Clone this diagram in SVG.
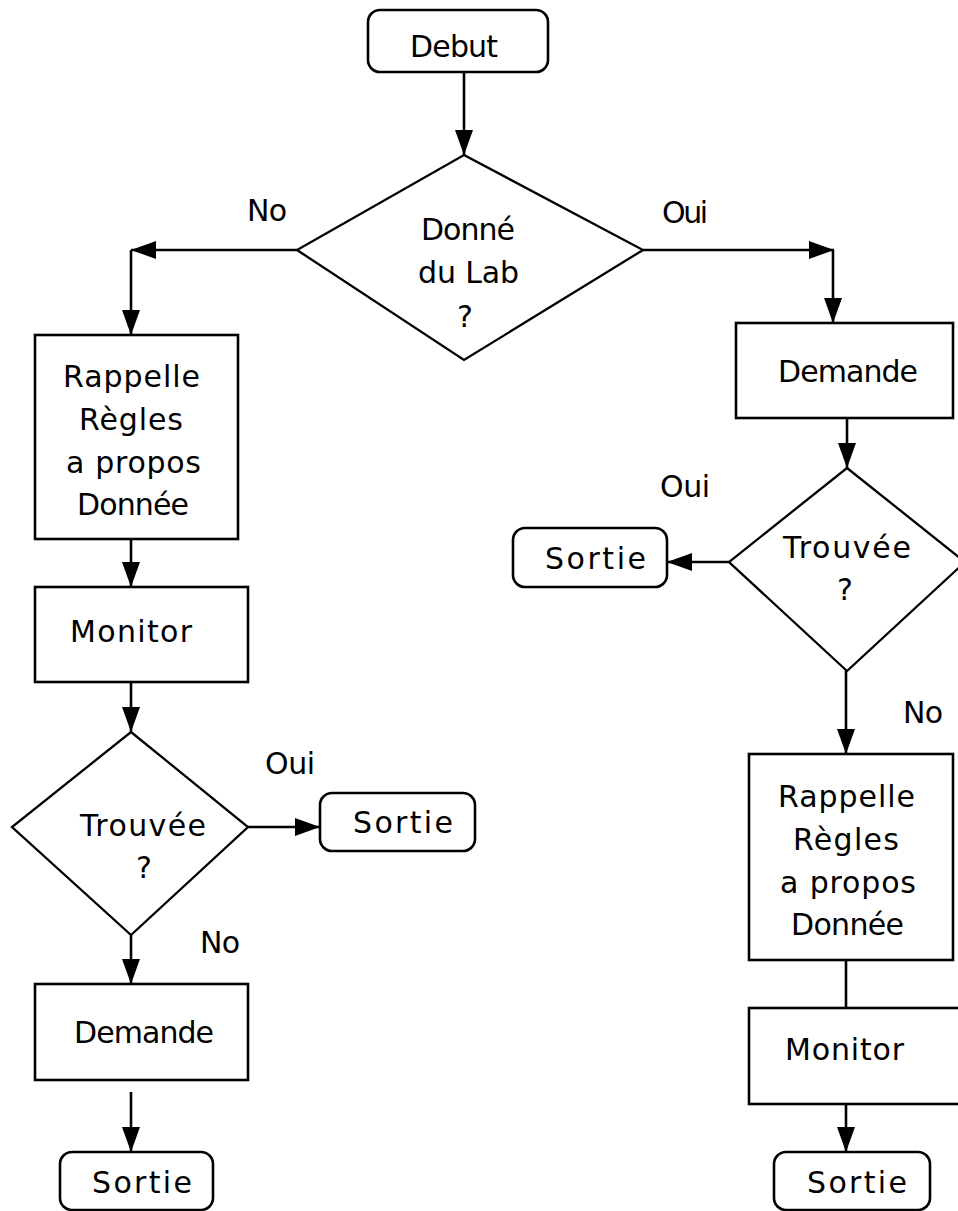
<svg xmlns="http://www.w3.org/2000/svg" width="958" height="1211" viewBox="0 0 958 1211">
<style>
.n{fill:#fff;stroke:#000;stroke-width:2.6}
.d{fill:#fff;stroke:#000;stroke-width:2.3}
.c{fill:none;stroke:#000;stroke-width:2.6}
text{font-family:"DejaVu Sans","Verdana",sans-serif;font-size:30px;fill:#000}
</style>
<defs>
<marker id="ah" markerUnits="userSpaceOnUse" markerWidth="26" markerHeight="18" refX="25" refY="9" orient="auto">
<path d="M0,0 L25,9 L0,18 Z" fill="#000"/>
</marker>
</defs>
<rect width="958" height="1211" fill="#fff"/>
<g id="connectors">
<line class="c" x1="464" y1="72" x2="464" y2="155" marker-end="url(#ah)"/>
<line class="c" x1="297" y1="250" x2="131" y2="250" marker-end="url(#ah)"/>
<line class="c" x1="131" y1="250" x2="131" y2="335" marker-end="url(#ah)"/>
<line class="c" x1="643" y1="250" x2="834" y2="250" marker-end="url(#ah)"/>
<line class="c" x1="833" y1="250" x2="833" y2="323" marker-end="url(#ah)"/>
<line class="c" x1="131" y1="539" x2="131" y2="587" marker-end="url(#ah)"/>
<line class="c" x1="131" y1="682" x2="131" y2="732" marker-end="url(#ah)"/>
<line class="c" x1="248" y1="827" x2="320" y2="827" marker-end="url(#ah)"/>
<line class="c" x1="131" y1="935" x2="131" y2="984" marker-end="url(#ah)"/>
<line class="c" x1="131" y1="1092" x2="131" y2="1152" marker-end="url(#ah)"/>
<line class="c" x1="847" y1="418" x2="847" y2="468" marker-end="url(#ah)"/>
<line class="c" x1="729" y1="562" x2="667" y2="562" marker-end="url(#ah)"/>
<line class="c" x1="846" y1="671" x2="846" y2="754" marker-end="url(#ah)"/>
<line class="c" x1="846" y1="960" x2="846" y2="1008"/>
<line class="c" x1="846" y1="1104" x2="846" y2="1152" marker-end="url(#ah)"/>
<text x="247" y="221" textLength="40">No</text>
<text x="662" y="223" textLength="46">Oui</text>
<text x="660" y="497" textLength="50">Oui</text>
<text x="265" y="774" textLength="50">Oui</text>
<text x="200" y="953" textLength="40">No</text>
<text x="903" y="723" textLength="40">No</text>
</g>
<g id="debut">
<rect class="n" x="368" y="10" width="180" height="62" rx="12"/>
<text x="410" y="57" textLength="88">Debut</text>
</g>
<g id="q1">
<polygon class="d" points="464,155 643,250 464,360 297,250"/>
<text x="421" y="240" textLength="94">Donné</text>
<text x="418" y="283" textLength="101">du Lab</text>
<text x="457" y="327" textLength="14">?</text>
</g>
<g id="rappelL">
<rect class="n" x="35" y="335" width="203" height="204"/>
<text x="63" y="387" textLength="137">Rappelle</text>
<text x="79" y="430" textLength="104">Règles</text>
<text x="66" y="473" textLength="135">a propos</text>
<text x="77" y="515" textLength="112">Donnée</text>
</g>
<g id="monitorL">
<rect class="n" x="35" y="587" width="213" height="95"/>
<text x="70" y="642" textLength="122">Monitor</text>
</g>
<g id="q2">
<polygon class="d" points="131,732 248,827 131,935 12,827"/>
<text x="80" y="836" textLength="126">Trouvée</text>
<text x="136" y="878" textLength="14">?</text>
</g>
<g id="sortie1">
<rect class="n" x="320" y="793" width="155" height="58" rx="12"/>
<text x="353" y="833" textLength="100">Sortie</text>
</g>
<g id="demandeL">
<rect class="n" x="35" y="984" width="213" height="96"/>
<text x="74" y="1043" textLength="140">Demande</text>
</g>
<g id="sortie2">
<rect class="n" x="60" y="1152" width="153" height="58" rx="12"/>
<text x="92" y="1193" textLength="100">Sortie</text>
</g>
<g id="demandeR">
<rect class="n" x="736" y="323" width="217" height="95"/>
<text x="778" y="382" textLength="140">Demande</text>
</g>
<g id="q3">
<polygon class="d" points="847,468 965,562 847,671 729,562"/>
<text x="783" y="558" textLength="128">Trouvée</text>
<text x="837" y="600" textLength="15">?</text>
</g>
<g id="sortie3">
<rect class="n" x="513" y="528" width="154" height="59" rx="12"/>
<text x="545" y="569" textLength="101">Sortie</text>
</g>
<g id="rappelR">
<rect class="n" x="749" y="754" width="204" height="206"/>
<text x="778" y="807" textLength="137">Rappelle</text>
<text x="793" y="850" textLength="106">Règles</text>
<text x="780" y="893" textLength="136">a propos</text>
<text x="791" y="935" textLength="113">Donnée</text>
</g>
<g id="monitorR">
<rect class="n" x="749" y="1008" width="215" height="96"/>
<text x="785" y="1060" textLength="119">Monitor</text>
</g>
<g id="sortie4">
<rect class="n" x="774" y="1152" width="156" height="58" rx="12"/>
<text x="807" y="1193" textLength="100">Sortie</text>
</g>
</svg>
